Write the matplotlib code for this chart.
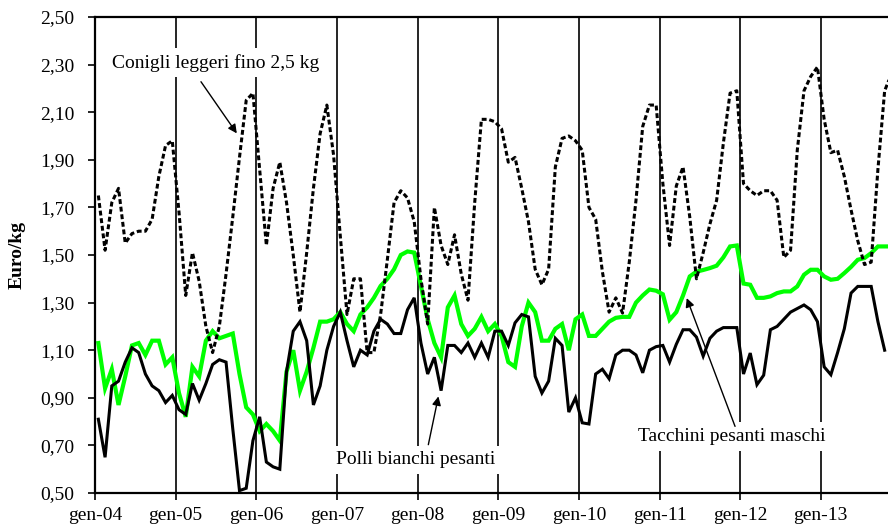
import numpy as np
import matplotlib
matplotlib.use("Agg")
import matplotlib.pyplot as plt
from matplotlib.ticker import FixedLocator, FuncFormatter

plt.rcParams["font.family"] = ["Liberation Serif", "DejaVu Serif"]

# monthly prices, Euro/kg, starting gen-04
conigli = [1.75, 1.52, 1.72, 1.78, 1.55, 1.59, 1.60, 1.60, 1.65, 1.83, 1.96, 1.98,
           1.68, 1.33, 1.51, 1.39, 1.20, 1.09, 1.20, 1.42, 1.66, 1.91, 2.15, 2.18,
           1.86, 1.54, 1.78, 1.89, 1.72, 1.50, 1.26, 1.51, 1.78, 2.01, 2.13, 1.92,
           1.58, 1.25, 1.40, 1.40, 1.09, 1.09, 1.25, 1.48, 1.72, 1.77, 1.74, 1.64,
           1.40, 1.21, 1.70, 1.54, 1.46, 1.585, 1.42, 1.31, 1.72, 2.07, 2.07, 2.06,
           2.03, 1.89, 1.91, 1.78, 1.64, 1.44, 1.375, 1.44, 1.87, 1.99, 2.00, 1.98,
           1.94, 1.70, 1.65, 1.43, 1.26, 1.32, 1.256, 1.47, 1.73, 2.04, 2.13, 2.13,
           1.80, 1.54, 1.79, 1.87, 1.66, 1.40, 1.51, 1.63, 1.73, 1.97, 2.18, 2.19,
           1.80, 1.77, 1.75, 1.77, 1.77, 1.73, 1.49, 1.52, 1.94, 2.19, 2.25, 2.29,
           2.07, 1.93, 1.94, 1.83, 1.69, 1.56, 1.46, 1.47, 1.86, 2.19, 2.26]

polli = [0.81, 0.65, 0.95, 0.97, 1.05, 1.11, 1.09, 1.00, 0.95, 0.93, 0.88, 0.91,
         0.85, 0.83, 0.96, 0.89, 0.96, 1.04, 1.06, 1.05, 0.77, 0.51, 0.52, 0.72,
         0.82, 0.63, 0.61, 0.60, 1.01, 1.18, 1.22, 1.14, 0.87, 0.95, 1.10, 1.20,
         1.26, 1.14, 1.03, 1.10, 1.08, 1.18, 1.23, 1.21, 1.17, 1.17, 1.27, 1.32,
         1.13, 1.00, 1.07, 0.93, 1.12, 1.12, 1.09, 1.13, 1.07, 1.13, 1.07, 1.18,
         1.18, 1.12, 1.215, 1.25, 1.24, 0.99, 0.92, 0.97, 1.15, 1.12, 0.84, 0.90,
         0.795, 0.79, 1.00, 1.02, 0.98, 1.08, 1.10, 1.10, 1.08, 1.005, 1.10, 1.115,
         1.12, 1.05, 1.125, 1.186, 1.186, 1.155, 1.075, 1.15, 1.18, 1.195, 1.195, 1.195,
         1.00, 1.088, 0.955, 0.995, 1.186, 1.20, 1.23, 1.26, 1.275, 1.29, 1.27, 1.22,
         1.03, 0.997, 1.09, 1.19, 1.34, 1.368, 1.368, 1.368, 1.22, 1.10]

tacchini = [1.13, 0.94, 1.02, 0.87, 0.99, 1.12, 1.13, 1.08, 1.14, 1.14, 1.04, 1.07,
            0.92, 0.82, 1.03, 0.99, 1.14, 1.18, 1.15, 1.16, 1.17, 1.00, 0.86, 0.83,
            0.76, 0.79, 0.76, 0.72, 1.01, 1.10, 0.93, 1.01, 1.11, 1.22, 1.22, 1.23,
            1.26, 1.21, 1.18, 1.25, 1.28, 1.32, 1.37, 1.40, 1.44, 1.50, 1.515, 1.51,
            1.37, 1.23, 1.13, 1.07, 1.28, 1.33, 1.21, 1.16, 1.19, 1.24, 1.18, 1.21,
            1.16, 1.05, 1.03, 1.20, 1.30, 1.26, 1.14, 1.14, 1.19, 1.21, 1.10, 1.23,
            1.25, 1.16, 1.16, 1.19, 1.22, 1.236, 1.24, 1.24, 1.30, 1.33, 1.355, 1.35,
            1.335, 1.228, 1.26, 1.33, 1.41, 1.43, 1.437, 1.445, 1.455, 1.49, 1.536, 1.54,
            1.38, 1.375, 1.32, 1.32, 1.326, 1.34, 1.347, 1.347, 1.368, 1.417, 1.438, 1.438,
            1.41, 1.396, 1.40, 1.424, 1.45, 1.48, 1.487, 1.508, 1.536, 1.536, 1.536]

anni = ["gen-04", "gen-05", "gen-06", "gen-07", "gen-08",
        "gen-09", "gen-10", "gen-11", "gen-12", "gen-13"]


def mesi(serie):
    # points sit in the middle of each month slot
    return np.arange(len(serie)) + 0.5


fig = plt.figure(figsize=(8.88, 5.27), dpi=100)
ax = fig.add_axes([95 / 888, 34 / 527, 793 / 888, 476 / 527])

ax.plot(mesi(tacchini), tacchini, color="#00FF00", lw=3.0, solid_joinstyle="miter", zorder=2)
ax.plot(mesi(polli), polli, color="black", lw=2.2, solid_joinstyle="miter", zorder=2.1)
ax.plot(mesi(conigli), conigli, color="black", lw=2.2, linestyle=(0, (1.6, 0.9)),
        dash_capstyle="butt", zorder=2.2)

ax.set_xlim(0, 118)
ax.set_ylim(0.5, 2.5)
ax.xaxis.set_major_locator(FixedLocator(np.arange(len(anni)) * 12))
ax.set_xticklabels(anni)
ax.yaxis.set_major_locator(FixedLocator(np.arange(0.5, 2.51, 0.2)))
ax.yaxis.set_major_formatter(FuncFormatter(lambda v, p: f"{v:.2f}".replace(".", ",")))
ax.tick_params(axis="both", direction="out", length=5, width=1.2, labelsize=14, colors="black")
ax.tick_params(axis="y", pad=10)
ax.tick_params(axis="x", pad=5)

ax.set_axisbelow(True)
ax.xaxis.grid(True, color="black", lw=1.2)
for s in ["left", "bottom", "top"]:
    ax.spines[s].set_linewidth(1.6)
ax.spines["right"].set_visible(False)

ax.set_ylabel("Euro/kg", fontsize=14, fontweight="bold", labelpad=10)

box = dict(facecolor="white", edgecolor="none", pad=4)
ax.text(18.0, 2.308, "Conigli leggeri fino 2,5 kg", fontsize=14, ha="center", va="center", bbox=box, zorder=4)
ax.text(47.7, 0.640, "Polli bianchi pesanti", fontsize=14, ha="center", va="center", bbox=box, zorder=4)
ax.text(94.7, 0.737, "Tacchini pesanti maschi", fontsize=14, ha="center", va="center", bbox=box, zorder=4)

arrow = dict(arrowstyle="-|>", color="black", lw=1.0, mutation_scale=13, shrinkA=0, shrinkB=0)
ax.annotate("", xy=(21.1, 2.011), xytext=(15.77, 2.228), arrowprops=arrow, zorder=5)
ax.annotate("", xy=(51.1, 0.906), xytext=(49.6, 0.703), arrowprops=arrow, zorder=5)
ax.annotate("", xy=(88.05, 1.319), xytext=(95.24, 0.780), arrowprops=arrow, zorder=5)

fig.savefig("out.png", dpi=100)
